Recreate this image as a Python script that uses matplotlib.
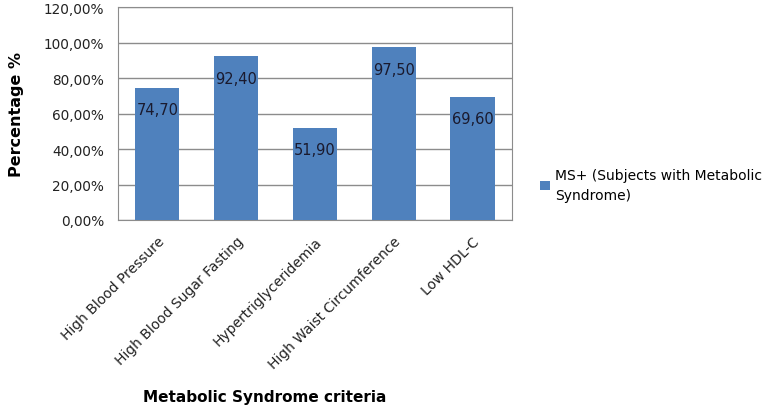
import matplotlib
matplotlib.use('Agg')
import matplotlib.pyplot as plt
from matplotlib.ticker import FuncFormatter, MultipleLocator

categories = ['High Blood Pressure', 'High Blood Sugar Fasting', 'Hypertriglyceridemia',
              'High Waist Circumference', 'Low HDL-C']
values = [74.70, 92.40, 51.90, 97.50, 69.60]
series_name = 'MS+ (Subjects with Metabolic\nSyndrome)'

bar_color = '#4F81BD'
grid_color = '#8C8C8C'

fig = plt.figure(figsize=(7.68, 4.10), dpi=100)
ax = fig.add_axes([0.1536, 0.461, 0.513, 0.519])

x = range(len(categories))
bars = ax.bar(x, values, width=0.56, color=bar_color, zorder=3, label=series_name)

# value labels inside the top of each bar
for b, v in zip(bars, values):
    ax.annotate(f'{v:.2f}'.replace('.', ','),
                xy=(b.get_x() + b.get_width() / 2, b.get_height()),
                xytext=(0, -22), textcoords='offset pixels',
                ha='center', va='center', fontsize=10.5, color='#1a1a2e', zorder=4)

ax.set_xlim(-0.5, len(categories) - 0.5)
ax.set_ylim(0, 120)
ax.yaxis.set_major_locator(MultipleLocator(20))
ax.yaxis.set_major_formatter(FuncFormatter(lambda v, p: f'{v:.2f}'.replace('.', ',') + '%'))
ax.grid(axis='y', color=grid_color, linewidth=1, zorder=0)
ax.set_axisbelow(True)
for s in ax.spines.values():
    s.set_color(grid_color)
ax.tick_params(axis='both', length=0, labelsize=9.8, colors='#222222')
ax.tick_params(axis='y', pad=10)
ax.tick_params(axis='x', pad=10)

ax.set_xticks(list(x))
ax.set_xticklabels(categories, rotation=45, ha='right', rotation_mode='anchor', fontsize=10)

ax.set_ylabel('Percentage %', fontsize=11.5, fontweight='bold', labelpad=14)
fig.text(0.345, 0.03, 'Metabolic Syndrome criteria', ha='center', va='center',
         fontsize=11, fontweight='bold')

ax.legend(loc='center left', bbox_to_anchor=(1.04, 0.165), frameon=False, fontsize=10,
          handlelength=0.7, handleheight=0.7, handletextpad=0.4, labelspacing=0.5)
for t in ax.get_legend().get_texts():
    t.set_linespacing(1.6)

fig.savefig('out.png', dpi=100, facecolor='white')
